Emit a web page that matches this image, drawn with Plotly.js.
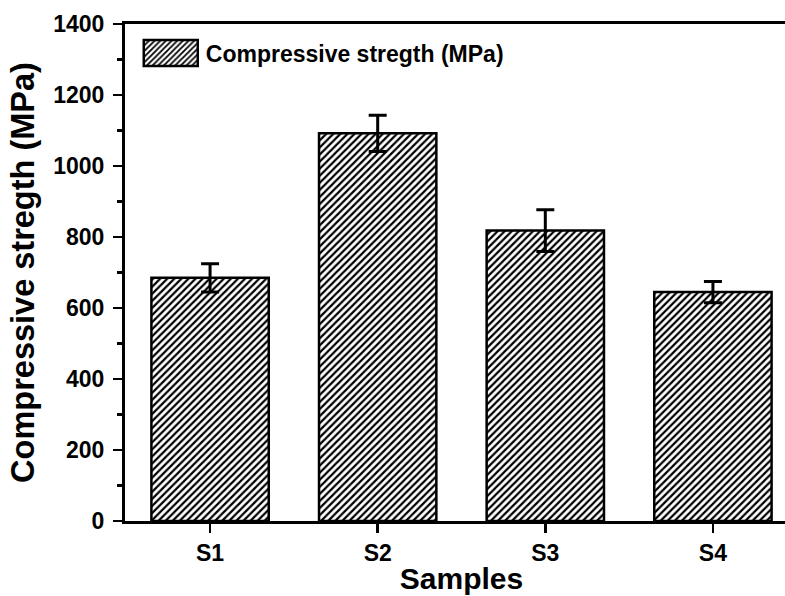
<!DOCTYPE html>
<html>
<head>
<meta charset="utf-8">
<script src="https://cdn.plot.ly/plotly-3.0.1.min.js"></script>
<style>html,body{margin:0;padding:0;overflow:hidden;background:#fff}</style>
</head>
<body>
<div id="chart" style="width:798px;height:596px"></div>
<script>
const categories = ["S1", "S2", "S3", "S4"];
const strength = [685, 1092, 818, 645];
const strengthErr = [40, 51, 59, 30];
const yTickVals = [0, 200, 400, 600, 800, 1000, 1200, 1400];
const seriesName = "Compressive stregth (MPa)";

const FONT = "Liberation Sans, Arial, sans-serif";

const trace = {
  type: "bar",
  x: categories,
  y: strength,
  name: seriesName,
  width: 0.7,
  showlegend: true,
  marker: {
    color: "white",
    line: {color: "black", width: 2.5},
    pattern: {shape: "/", fgcolor: "black", bgcolor: "white", size: 5, solidity: 0.45}
  },
  error_y: {type: "data", array: strengthErr, visible: true, color: "black", thickness: 3, width: 9}
};

const layout = {
  width: 798, height: 596,
  margin: {l: 125, r: 0, t: 24, b: 75},
  paper_bgcolor: "white", plot_bgcolor: "white",
  showlegend: true,
  legend: {
    x: 0.016, y: 0.985, xanchor: "left", yanchor: "top",
    bgcolor: "rgba(0,0,0,0)", itemwidth: 60,
    font: {family: FONT, size: 23, color: "black", weight: "bold"}
  },
  xaxis: {
    type: "category",
    range: [-0.5075, 3.5075],
    showline: true, linecolor: "black", linewidth: 3, mirror: true,
    ticks: "outside", ticklen: 9, tickwidth: 2.5, tickcolor: "black",
    showgrid: false, zeroline: false,
    tickfont: {family: FONT, size: 23, color: "black", weight: "bold"},
    title: {text: "Samples", font: {family: FONT, size: 30, color: "black", weight: "bold"}, standoff: 4}
  },
  yaxis: {
    range: [0, 1400],
    tickvals: yTickVals,
    showline: true, linecolor: "black", linewidth: 3, mirror: true,
    ticks: "outside", ticklen: 9, tickwidth: 2.5, tickcolor: "black",
    minor: {dtick: 100, ticks: "outside", ticklen: 5, tickwidth: 2.5, tickcolor: "black", showgrid: false},
    showgrid: false, zeroline: false,
    tickfont: {family: FONT, size: 23, color: "black", weight: "bold"},
    ticklabelstandoff: 4,
    title: {text: "Compressive stregth (MPa)", font: {family: FONT, size: 32.5, color: "black", weight: "bold"}, standoff: 9}
  }
};

Plotly.newPlot("chart", [trace], layout, {displayModeBar: false, staticPlot: true}).then(function (gd) {
  const p = gd.querySelector(".legend .legendpoints path");
  if (p) p.setAttribute("d", "M27,13H-27V-13H27Z");
});
</script>
</body>
</html>
